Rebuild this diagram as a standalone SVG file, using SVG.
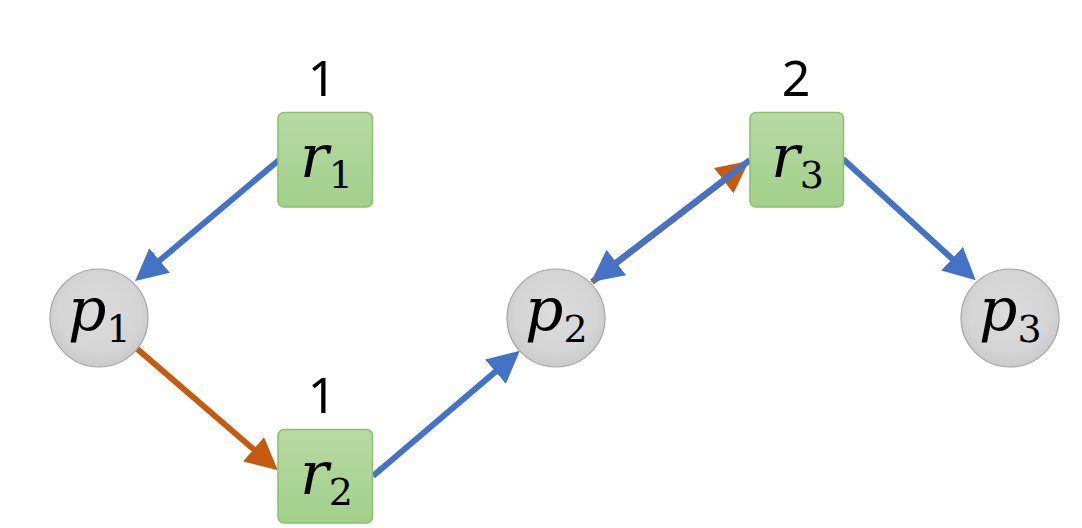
<svg xmlns="http://www.w3.org/2000/svg" width="1082" height="528" viewBox="0 0 1082 528">
<style>
.rect{fill:url(#gGreen);stroke:#8cbf6e;stroke-width:1.5}
.circ{fill:url(#gGray);stroke:#a6a6a6;stroke-width:1.2}
.num{font-family:"Noto Sans","Open Sans",sans-serif;font-size:50px;fill:#000;text-anchor:middle}
.mi{font-family:"DejaVu Serif",serif;font-style:italic;font-size:60px;fill:#000}
.sub{font-family:"DejaVu Serif",serif;font-size:38px;fill:#000}
.blue{stroke:#4472C4;stroke-width:6;fill:none;marker-end:url(#aBlue)}
.orange{stroke:#C55A11;stroke-width:6;fill:none;marker-end:url(#aOrange)}
</style>
<defs>
<linearGradient id="gGreen" x1="0" y1="0" x2="0" y2="1">
<stop offset="0" stop-color="#b7daa3"/>
<stop offset="1" stop-color="#a2d08a"/>
</linearGradient>
<radialGradient id="gGray" cx="0.5" cy="0.45" r="0.6">
<stop offset="0" stop-color="#dcdcdc"/>
<stop offset="0.7" stop-color="#d4d4d4"/>
<stop offset="1" stop-color="#c6c6c6"/>
</radialGradient>
<marker id="aBlue" viewBox="0 0 10 10" refX="8" refY="5" markerUnits="userSpaceOnUse" markerWidth="32" markerHeight="32" orient="auto">
<path d="M0,0 L10,5 L0,10 z" fill="#4472C4"/>
</marker>
<marker id="aOrange" viewBox="0 0 10 10" refX="8" refY="5" markerUnits="userSpaceOnUse" markerWidth="32" markerHeight="32" orient="auto">
<path d="M0,0 L10,5 L0,10 z" fill="#C55A11"/>
</marker>
</defs>
<rect width="1082" height="528" fill="#ffffff"/>
<g id="connectors">
<line class="blue" x1="279" y1="160" x2="140" y2="277"/>
<line class="orange" x1="135" y1="347" x2="273" y2="466"/>
<line class="blue" x1="373" y1="476" x2="515" y2="355"/>
<line class="orange" x1="592" y1="282" x2="744" y2="165"/>
<line class="blue" x1="750" y1="160" x2="596" y2="278"/>
<line class="blue" x1="843" y1="159" x2="971" y2="276"/>
</g>
<g id="r1">
<text class="num" x="322" y="96">1</text>
<rect class="rect" x="278" y="112.5" width="94.5" height="94.5" rx="6"/>
<text x="300" y="177"><tspan class="mi">r</tspan><tspan class="sub" dy="11">1</tspan></text>
</g>
<g id="r2">
<text class="num" x="322" y="413">1</text>
<rect class="rect" x="278" y="429.5" width="94.5" height="93.5" rx="6"/>
<text x="300" y="494"><tspan class="mi">r</tspan><tspan class="sub" dy="11">2</tspan></text>
</g>
<g id="r3">
<text class="num" x="796" y="96">2</text>
<rect class="rect" x="750" y="112.5" width="93.5" height="94.5" rx="6"/>
<text x="771" y="177"><tspan class="mi">r</tspan><tspan class="sub" dy="11">3</tspan></text>
</g>
<g id="p1">
<ellipse class="circ" cx="99" cy="318" rx="49" ry="49"/>
<text x="68" y="330"><tspan class="mi">p</tspan><tspan class="sub" dy="12">1</tspan></text>
</g>
<g id="p2">
<ellipse class="circ" cx="556" cy="318" rx="49" ry="49"/>
<text x="525" y="330"><tspan class="mi">p</tspan><tspan class="sub" dy="12">2</tspan></text>
</g>
<g id="p3">
<ellipse class="circ" cx="1010" cy="318" rx="49" ry="49"/>
<text x="979" y="330"><tspan class="mi">p</tspan><tspan class="sub" dy="12">3</tspan></text>
</g>
</svg>
